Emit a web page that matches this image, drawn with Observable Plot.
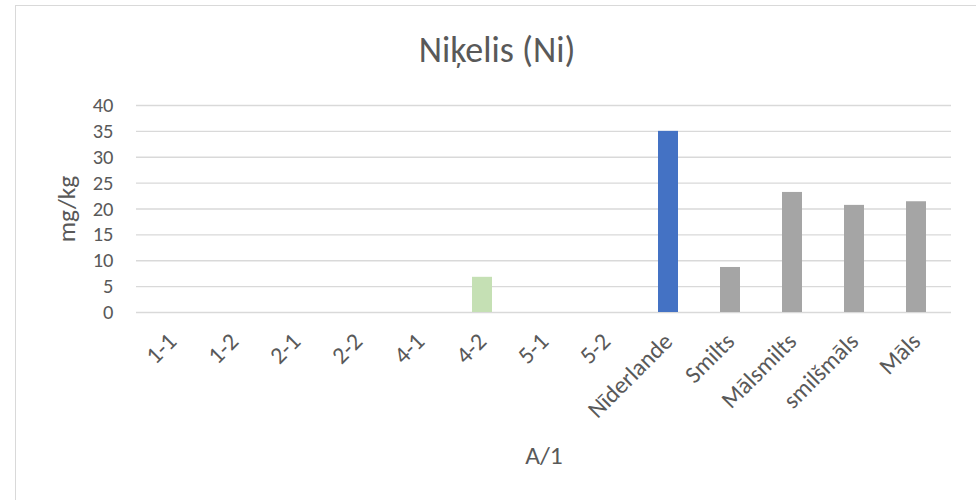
<!DOCTYPE html>
<html>
<head>
<meta charset="utf-8">
<script src="https://cdn.jsdelivr.net/npm/d3@7"></script>
<script src="https://cdn.jsdelivr.net/npm/@observablehq/plot@0.6"></script>
<style>
  html, body { margin: 0; padding: 0; background: #fff; overflow: hidden; }
  #chart { position: relative; width: 976px; height: 500px; font-family: Carlito, Calibri, Lato, sans-serif; font-weight: 300; }
  #frame { position: absolute; left: 15px; top: 5px; width: 975px; height: 510px; border: 1.5px solid #d9d9d9; box-sizing: border-box; }
  #title { position: absolute; left: 15px; width: 964px; top: 30px; text-align: center; font-size: 36px; color: #595959; line-height: 40px; }
  #plot { position: absolute; left: 0; top: 0; }
  #plot svg text { font-weight: 300; }
</style>
</head>
<body>
<div id="chart">
  <div id="frame"></div>
  <div id="title">Niķelis (Ni)</div>
  <div id="plot"></div>
</div>
<script>
// Sample labels and nickel concentrations (mg/kg)
const samples = ["1-1", "1-2", "2-1", "2-2", "4-1", "4-2", "5-1", "5-2", "Nīderlande", "Smilts", "Mālsmilts", "smilšmāls", "Māls"];
const nickel = [0, 0, 0, 0, 0, 6.8, 0, 0, 35, 8.7, 23.2, 20.7, 21.4];
const groups = ["sample", "sample", "sample", "sample", "sample", "sample", "sample", "sample", "reference", "soil", "soil", "soil", "soil"];
const yTicks = [0, 5, 10, 15, 20, 25, 30, 35, 40];
const yLabel = "mg/kg";
const xLabel = "A/1";

const rows = samples.map((s, i) => ({sample: s, value: nickel[i], group: groups[i]}));

const textColor = "#595959";
const font = "Carlito, Calibri, Lato, sans-serif";

const chart = Plot.plot({
  width: 976,
  height: 500,
  marginTop: 105,
  marginBottom: 188,
  marginLeft: 136,
  marginRight: 25,
  style: {fontFamily: font, color: textColor, background: "transparent", overflow: "visible"},
  x: {domain: samples, paddingInner: 0.68, paddingOuter: 0.34, label: null},
  y: {domain: [0, 40], label: null},
  color: {domain: ["sample", "reference", "soil"], range: ["#c5e0b4", "#4472c4", "#a5a5a5"]},
  marks: [
    Plot.gridY(yTicks, {stroke: "#d9d9d9", strokeOpacity: 1, strokeWidth: 1.4}),
    Plot.barY(rows, {x: "sample", y: "value", fill: "group"}),
    Plot.axisY(yTicks, {tickSize: 0, tickPadding: 23, fontSize: 20.5, fill: textColor, label: null}),
    Plot.axisX({tickSize: 0, tickPadding: 25, tickRotate: -45, fontSize: 24, fill: textColor, label: null}),
    Plot.text([yLabel], {frameAnchor: "left", textAnchor: "middle", rotate: -90, dx: -70, fontSize: 25.5, fill: textColor}),
    Plot.text([xLabel], {frameAnchor: "bottom", dy: 151, fontSize: 25.5, fill: textColor})
  ]
});
document.getElementById("plot").appendChild(chart);
</script>
</body>
</html>
